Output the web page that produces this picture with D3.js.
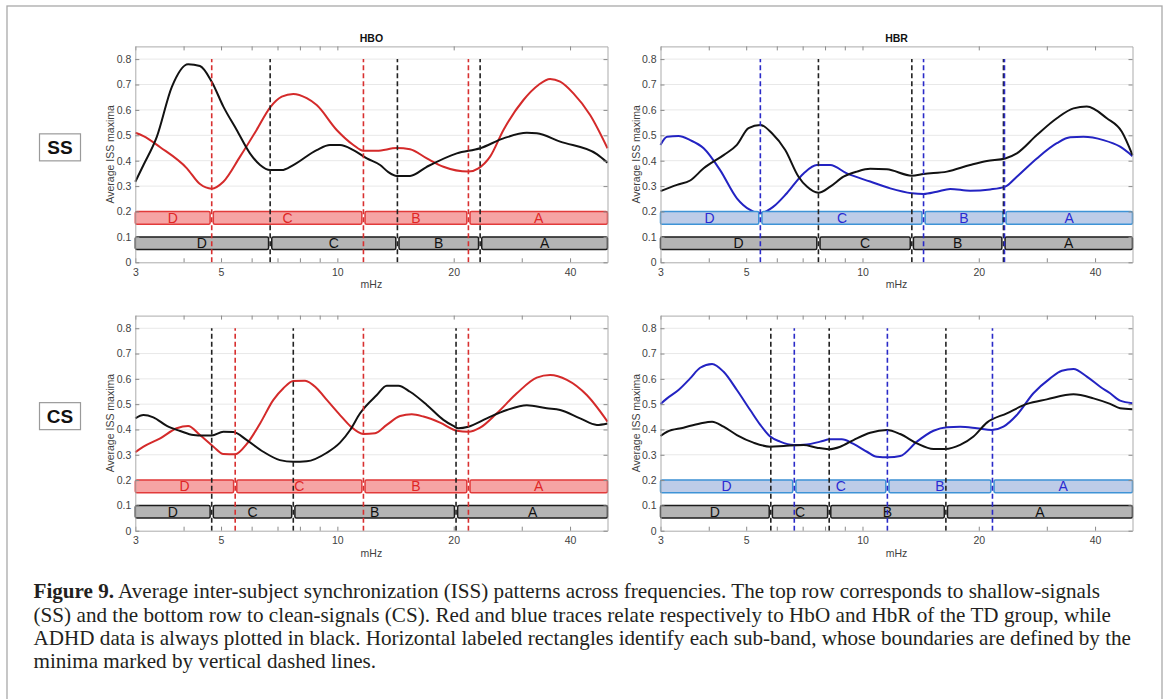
<!DOCTYPE html>
<html>
<head>
<meta charset="utf-8">
<script src="https://cdn.jsdelivr.net/npm/d3@7"></script>
<style>
  body { margin: 0; background: #fff; }
  svg { display: block; }
</style>
</head>
<body>
<svg id="fig" width="1167" height="699"></svg>
<script>
// ---------------------------------------------------------------
// Data: average ISS maxima vs frequency (mHz), log-spaced axis
// ---------------------------------------------------------------
const xDomain = [3, 50];
const yDomain = [0, 0.85];
const xTicks = [3, 5, 10, 20, 40];
const xMinorTicks = [4, 6, 7, 8, 9, 30];
const yTicks = [0, 0.1, 0.2, 0.3, 0.4, 0.5, 0.6, 0.7, 0.8];
const bandNames = ["D", "C", "B", "A"];
const rowLabels = ["SS", "CS"];
const columnTitles = ["HBO", "HBR"];

// shallow-signals, HbO
const ssHboTd = [[3,0.51],[3.15,0.497],[3.48,0.453],[4.08,0.37],[4.41,0.308],[4.73,0.29],[5.07,0.317],[5.6,0.416],[6.18,0.521],[6.7,0.61],[7.18,0.652],[7.69,0.663],[8.33,0.646],[8.84,0.619],[9.96,0.521],[11.0,0.462],[11.68,0.439],[12.65,0.439],[14.25,0.45],[15.42,0.445],[17.04,0.409],[18.81,0.376],[21.83,0.357],[23.17,0.37],[24.84,0.416],[26.9,0.521],[30.3,0.639],[33.13,0.698],[35.52,0.722],[37.71,0.711],[40.81,0.665],[45.08,0.58],[50,0.449]];
const ssHboAdhd = [[3,0.317],[3.15,0.383],[3.41,0.494],[3.73,0.691],[4.11,0.78],[4.41,0.773],[4.73,0.711],[5.07,0.613],[5.49,0.521],[5.94,0.429],[6.31,0.383],[6.7,0.363],[7.18,0.363],[7.69,0.383],[8.84,0.442],[9.57,0.462],[10.16,0.462],[11.0,0.442],[11.92,0.409],[12.9,0.383],[13.55,0.355],[14.25,0.34],[15.42,0.34],[17.04,0.376],[20.37,0.429],[23.41,0.449],[26.9,0.488],[30.92,0.51],[32.81,0.508],[37.71,0.475],[46.92,0.426],[50,0.392]];
const ssHboTdBounds = [4.73, 11.68, 21.83];
const ssHboAdhdBounds = [6.7, 14.3, 23.41];

// shallow-signals, HbR
const ssHbrTd = [[3,0.462],[3.12,0.494],[3.34,0.497],[3.58,0.481],[3.88,0.449],[4.28,0.363],[4.73,0.252],[5.12,0.206],[5.44,0.193],[5.88,0.219],[6.37,0.272],[7.04,0.35],[7.62,0.383],[8.25,0.383],[9.11,0.35],[10.47,0.318],[11.8,0.291],[13.42,0.272],[14.39,0.269],[15.58,0.278],[16.87,0.289],[19.0,0.282],[21.41,0.287],[23.41,0.298],[25.09,0.337],[28.27,0.409],[31.85,0.469],[34.48,0.492],[37.32,0.494],[42.05,0.481],[46.44,0.455],[50,0.418]];
const ssHbrAdhd = [[3,0.28],[3.31,0.305],[3.58,0.322],[3.88,0.37],[4.37,0.422],[4.73,0.462],[5.07,0.528],[5.44,0.541],[5.83,0.508],[6.31,0.442],[6.83,0.337],[7.18,0.298],[7.69,0.274],[8.25,0.298],[8.93,0.337],[9.67,0.357],[10.47,0.368],[11.56,0.366],[13.42,0.341],[14.39,0.348],[16.54,0.357],[19.0,0.383],[20.99,0.399],[23.41,0.409],[25.09,0.429],[28.27,0.501],[31.85,0.567],[35.17,0.606],[38.08,0.613],[42.91,0.567],[46.92,0.514],[50,0.422]];
const ssHbrTdBounds = [5.44, 14.39, 23.31];
const ssHbrAdhdBounds = [7.69, 13.42, 23.17];

// clean-signals, HbO
const csHboTd = [[3,0.31],[3.15,0.332],[3.48,0.365],[3.84,0.405],[4.11,0.414],[4.41,0.378],[4.78,0.332],[5.07,0.303],[5.44,0.302],[5.83,0.343],[6.31,0.424],[6.83,0.517],[7.25,0.563],[7.69,0.592],[8.25,0.593],[8.84,0.563],[9.39,0.517],[10.16,0.457],[10.79,0.414],[11.68,0.382],[12.52,0.385],[13.42,0.418],[14.53,0.453],[15.58,0.46],[16.7,0.451],[18.44,0.427],[20.37,0.395],[21.83,0.391],[23.41,0.407],[25.86,0.464],[29.13,0.543],[32.81,0.605],[35.52,0.615],[39.25,0.596],[44.19,0.536],[50,0.431]];
const csHboAdhd = [[3,0.444],[3.15,0.457],[3.34,0.448],[3.62,0.414],[3.92,0.394],[4.24,0.378],[4.5,0.376],[4.73,0.376],[5.07,0.391],[5.38,0.39],[5.83,0.358],[6.43,0.312],[7.1,0.279],[7.69,0.272],[8.33,0.274],[9.39,0.308],[10.16,0.348],[10.79,0.398],[11.45,0.464],[12.65,0.536],[13.42,0.573],[14.39,0.573],[15.42,0.549],[17.04,0.497],[18.81,0.438],[19.96,0.414],[20.56,0.405],[21.83,0.411],[24.36,0.444],[27.44,0.477],[30.92,0.496],[34.83,0.484],[37.71,0.477],[42.47,0.444],[46.92,0.418],[50,0.424]];
const csHboTdBounds = [5.44, 11.68, 21.83];
const csHboAdhdBounds = [4.73, 7.69, 20.28];

// clean-signals, HbR
const csHbrTd = [[3,0.501],[3.12,0.523],[3.34,0.556],[3.58,0.602],[3.8,0.644],[4.08,0.659],[4.37,0.628],[4.73,0.556],[5.12,0.477],[5.44,0.418],[5.77,0.372],[6.12,0.352],[6.63,0.339],[7.18,0.341],[7.77,0.352],[8.25,0.361],[8.84,0.361],[9.48,0.343],[10.27,0.312],[10.9,0.292],[11.68,0.29],[12.52,0.295],[13.83,0.352],[15.27,0.395],[16.54,0.409],[17.9,0.411],[19.78,0.405],[21.62,0.398],[23.17,0.411],[25.09,0.457],[27.7,0.543],[30.61,0.602],[32.81,0.632],[35.17,0.639],[38.08,0.609],[41.24,0.569],[43.76,0.543],[46.44,0.514],[50,0.504]];
const csHbrAdhd = [[3,0.374],[3.12,0.391],[3.44,0.407],[3.8,0.424],[4.08,0.431],[4.37,0.411],[4.73,0.378],[5.22,0.348],[5.77,0.332],[6.25,0.335],[7.04,0.339],[7.62,0.328],[8.17,0.322],[8.76,0.332],[9.48,0.358],[10.47,0.387],[11.56,0.398],[12.52,0.382],[13.83,0.345],[15.27,0.323],[16.37,0.323],[17.9,0.339],[19.38,0.372],[20.99,0.427],[23.64,0.464],[26.65,0.501],[30.0,0.519],[35.17,0.539],[39.62,0.523],[43.76,0.501],[46.44,0.484],[50,0.48]];
const csHbrTdBounds = [6.66, 11.60, 21.70];
const csHbrAdhdBounds = [5.79, 8.20, 16.44];

// vertical extent of the labelled sub-band strips and boundary markers
const tdStrip = [0.15, 0.2];
const adhdStrip = [0.05, 0.1];
const markerTop = 0.8;

const captionLines = [
  ["Figure 9.", " Average inter-subject synchronization (ISS) patterns across frequencies. The top row corresponds to shallow-signals"],
  ["", "(SS) and the bottom row to clean-signals (CS). Red and blue traces relate respectively to HbO and HbR of the TD group, while"],
  ["", "ADHD data is always plotted in black. Horizontal labeled rectangles identify each sub-band, whose boundaries are defined by the"],
  ["", "minima marked by vertical dashed lines."]
];

// ---------------------------------------------------------------
// Layout and styling
// ---------------------------------------------------------------
const colRange = [[135.3, 607.5], [660.5, 1132.5]];
const rowRange = [[262.3, 46.4], [530.7, 315.6]];

const palette = {
  HBO:  { line: "#d42a2a", fill: "#f6a4a4", stroke: "#e23a3a", text: "#e02626", dash: "#d83030" },
  HBR:  { line: "#2323c2", fill: "#bdcce8", stroke: "#3e93d6", text: "#2a2ad2", dash: "#2a2ac8" },
  ADHD: { line: "#121212", fill: "#b4b4b4", stroke: "#1c1c1c", text: "#111111", dash: "#222222" }
};

const sans = "'Liberation Sans', Arial, Helvetica, sans-serif";

const panels = [
  { row: 0, col: 0, td: ssHboTd, adhd: ssHboAdhd, tdB: ssHboTdBounds, adhdB: ssHboAdhdBounds, kind: "HBO" },
  { row: 0, col: 1, td: ssHbrTd, adhd: ssHbrAdhd, tdB: ssHbrTdBounds, adhdB: ssHbrAdhdBounds, kind: "HBR" },
  { row: 1, col: 0, td: csHboTd, adhd: csHboAdhd, tdB: csHboTdBounds, adhdB: csHboAdhdBounds, kind: "HBO" },
  { row: 1, col: 1, td: csHbrTd, adhd: csHbrAdhd, tdB: csHbrTdBounds, adhdB: csHbrAdhdBounds, kind: "HBR" }
];

const svg = d3.select("#fig");

// outer frame of the figure
svg.append("rect")
  .attr("x", 7).attr("y", 6).attr("width", 1155).attr("height", 730)
  .attr("fill", "none").attr("stroke", "#a9a9a9").attr("stroke-width", 1.3);

panels.forEach(p => {
  const x = d3.scaleLog().domain(xDomain).range(colRange[p.col]);
  const y = d3.scaleLinear().domain(yDomain).range(rowRange[p.row]);
  const [x0, x1] = x.range();
  const [yb, yt] = y.range();
  const g = svg.append("g");
  const tdStyle = palette[p.kind];
  const adStyle = palette.ADHD;

  // background and horizontal grid
  g.append("rect").attr("x", x0).attr("y", yt).attr("width", x1 - x0).attr("height", yb - yt).attr("fill", "#fff");
  g.append("g").selectAll("line").data(yTicks.filter(d => d > 0)).join("line")
    .attr("x1", x0).attr("x2", x1)
    .attr("y1", d => y(d)).attr("y2", d => y(d))
    .attr("stroke", "#e8e8e8").attr("stroke-width", 1);

  // traces
  const line = d3.line().x(d => x(d[0])).y(d => y(d[1])).curve(d3.curveMonotoneX);
  g.append("path").datum(p.td).attr("d", line)
    .attr("fill", "none").attr("stroke", tdStyle.line).attr("stroke-width", 2).attr("stroke-linejoin", "round");
  g.append("path").datum(p.adhd).attr("d", line)
    .attr("fill", "none").attr("stroke", adStyle.line).attr("stroke-width", 2).attr("stroke-linejoin", "round");

  // labelled sub-band strips
  function strips(bounds, levels, st) {
    const edges = [xDomain[0], ...bounds, xDomain[1]];
    const segs = bandNames.map((name, i) => ({
      name,
      a: x(edges[i]) + (i > 0 ? 1.6 : 0),
      b: x(edges[i + 1]) - (i < bandNames.length - 1 ? 1.6 : 0)
    }));
    const sg = g.append("g");
    sg.selectAll("rect").data(segs).join("rect")
      .attr("x", d => d.a).attr("width", d => d.b - d.a)
      .attr("y", y(levels[1])).attr("height", y(levels[0]) - y(levels[1]))
      .attr("rx", 1.5)
      .attr("fill", st.fill).attr("stroke", st.stroke).attr("stroke-width", 1.5);
    sg.selectAll("text").data(segs).join("text")
      .attr("x", d => (d.a + d.b) / 2)
      .attr("y", (y(levels[0]) + y(levels[1])) / 2)
      .attr("dy", "0.36em")
      .attr("text-anchor", "middle")
      .attr("font-family", sans).attr("font-size", 14)
      .attr("fill", st.text)
      .text(d => d.name);
  }
  strips(p.tdB, tdStrip, tdStyle);
  strips(p.adhdB, adhdStrip, adStyle);

  // dashed sub-band boundaries
  function markers(bounds, st) {
    g.append("g").selectAll("line").data(bounds).join("line")
      .attr("x1", d => x(d)).attr("x2", d => x(d))
      .attr("y1", y(0)).attr("y2", y(markerTop))
      .attr("stroke", st.dash).attr("stroke-width", 1.6)
      .attr("stroke-dasharray", "5,3");
  }
  markers(p.adhdB, adStyle);
  markers(p.tdB, tdStyle);

  // axes box and ticks
  const allX = [...xTicks, ...xMinorTicks].sort((a, b) => a - b);
  const fmt = d => xTicks.includes(d) ? String(d) : "";
  const styleAxis = sel => {
    sel.select(".domain").attr("stroke", "#ababab");
    sel.selectAll(".tick line").attr("stroke", "#8a8a8a");
    sel.selectAll("text").attr("fill", "#3f3f3f").attr("font-family", sans).attr("font-size", 10.5);
  };
  g.append("g").attr("transform", `translate(0,${yb})`)
    .call(d3.axisBottom(x).tickValues(allX).tickFormat(fmt).tickSizeInner(-4).tickSizeOuter(0).tickPadding(6))
    .call(styleAxis);
  g.append("g").attr("transform", `translate(0,${yt})`)
    .call(d3.axisTop(x).tickValues(allX).tickFormat(() => "").tickSizeInner(-4).tickSizeOuter(0))
    .call(styleAxis);
  g.append("g").attr("transform", `translate(${x0},0)`)
    .call(d3.axisLeft(y).tickValues(yTicks).tickFormat(d => d === 0 ? "0" : d3.format(".1f")(d)).tickSizeInner(-4).tickSizeOuter(0).tickPadding(4))
    .call(styleAxis);
  g.append("g").attr("transform", `translate(${x1},0)`)
    .call(d3.axisRight(y).tickValues(yTicks).tickFormat(() => "").tickSizeInner(-4).tickSizeOuter(0))
    .call(styleAxis);
  g.selectAll(".domain").attr("fill", "none");

  // axis titles
  g.append("text")
    .attr("x", (x0 + x1) / 2).attr("y", yb + 26)
    .attr("text-anchor", "middle")
    .attr("font-family", sans).attr("font-size", 10.5).attr("fill", "#3f3f3f")
    .text("mHz");
  g.append("text")
    .attr("transform", `translate(${x0 - 21},${(yb + yt) / 2}) rotate(-90)`)
    .attr("text-anchor", "middle")
    .attr("font-family", sans).attr("font-size", 10.5).attr("fill", "#3f3f3f")
    .text("Average ISS maxima");

  if (p.row === 0) {
    g.append("text")
      .attr("x", (x0 + x1) / 2).attr("y", yt - 4)
      .attr("text-anchor", "middle")
      .attr("font-family", sans).attr("font-size", 10.5).attr("font-weight", "bold").attr("fill", "#111")
      .text(columnTitles[p.col]);
  }
});

// row labels
rowLabels.forEach((lab, i) => {
  const yc = (rowRange[i][0] + rowRange[i][1]) / 2 - 7;
  const gx = svg.append("g");
  gx.append("rect")
    .attr("x", 39.5).attr("y", yc - 13.5).attr("width", 41).attr("height", 27)
    .attr("fill", "#fff").attr("stroke", "#9a9a9a").attr("stroke-width", 1.2);
  gx.append("text")
    .attr("x", 60).attr("y", yc).attr("dy", "0.36em")
    .attr("text-anchor", "middle")
    .attr("font-family", sans).attr("font-size", 19).attr("font-weight", "bold").attr("fill", "#111")
    .text(lab);
});

// caption
const serif = "'Liberation Serif', 'Times New Roman', serif";
const captionX = 33.5;
const captionBase = [598, 621.5, 645, 668.3];
const captionRight = [1100, 1111, 1131];
const cap = svg.append("g");
const capTexts = captionLines.map((parts, i) => {
  const t = cap.append("text")
    .attr("x", captionX).attr("y", captionBase[i])
    .attr("font-family", serif).attr("font-size", 18).attr("fill", "#231f20");
  if (parts[0]) t.append("tspan").attr("font-weight", "bold").text(parts[0]);
  t.append("tspan").text(parts[1]);
  return t;
});
// size the caption font so the full lines fill their measured widths;
// the short closing line keeps its natural spacing
const ratios = capTexts.slice(0, 3).map((t, i) => (captionRight[i] - captionX) / t.node().getComputedTextLength());
const fs = 18 * d3.mean(ratios);
capTexts.forEach((t, i) => {
  t.attr("font-size", fs);
  if (i < captionRight.length) {
    t.attr("textLength", captionRight[i] - captionX).attr("lengthAdjust", "spacing");
  }
});
</script>
</body>
</html>
